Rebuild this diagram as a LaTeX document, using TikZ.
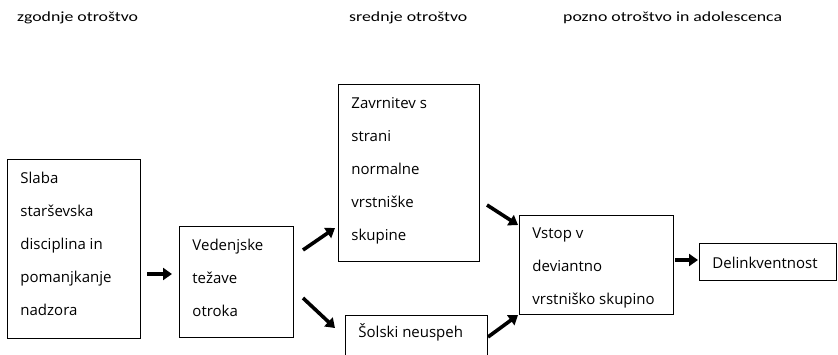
\documentclass[tikz,border=0pt]{standalone}
\usepackage{fontspec}
\usepackage{graphicx}
\setmainfont{Open Sans}
\newfontfamily\hdrfont{Carlito}
\usetikzlibrary{arrows.meta}
\newcommand{\hdrtext}[1]{\scalebox{1.27}[1]{\hdrfont\fontsize{14}{16}\selectfont #1}}
\newcommand{\boxtext}[4]{\parbox[t][#2][t]{#1}{\fontsize{15}{33}\selectfont\raggedright\leftskip=13pt\rule{0pt}{#3}#4}}
\tikzset{
  box/.style={draw, line width=0.9pt, inner sep=0pt, anchor=north west},
  hdr/.style={anchor=base west, inner sep=0pt},
  arr/.style={line width=3.6pt, -{Triangle[length=9pt,width=12pt]}}
}
\begin{document}
\begin{tikzpicture}[x=1pt,y=-1pt]
\useasboundingbox (0,0) rectangle (838,354);
\clip (0,0) rectangle (838,354);
\fill[white] (0,0) rectangle (838,354);
% headers
\node[hdr] (h1) at (17,21) {\hdrtext{zgodnje otroštvo}};
\node[hdr] (h2) at (349,21) {\hdrtext{srednje otroštvo}};
\node[hdr] (h3) at (563,21) {\hdrtext{pozno otroštvo in adolescenca}};
% boxes
\node[box] (b1) at (7,159) {\boxtext{133pt}{179pt}{24pt}{Slaba\\starševska\\disciplina in\\pomanjkanje\\nadzora}};
\node[box] (b2) at (179,226) {\boxtext{114pt}{111pt}{24pt}{Vedenjske\\težave\\otroka}};
\node[box] (b3) at (338,84) {\boxtext{141pt}{177pt}{24pt}{Zavrnitev s\\strani\\normalne\\vrstniške\\skupine}};
\node[box] (b4) at (345,315) {\boxtext{142pt}{48pt}{22pt}{Šolski neuspeh}};
\node[box] (b5) at (519,215) {\boxtext{154pt}{99pt}{23pt}{Vstop v\\deviantno\\vrstniško skupino}};
\node[box] (b6) at (699,243) {\boxtext{137pt}{37pt}{25pt}{Delinkventnost}};
% arrow end points
\coordinate (a1s) at (147,274); \coordinate (a1e) at (172,274);
\coordinate (a2s) at (303,250); \coordinate (a2e) at (335,228);
\coordinate (a3s) at (303,298); \coordinate (a3e) at (335,328);
\coordinate (a4s) at (487,205); \coordinate (a4e) at (518,225);
\coordinate (a5s) at (488,337); \coordinate (a5e) at (518,315);
\coordinate (a6s) at (675,260); \coordinate (a6e) at (698,260);
\draw[arr] (a1s) -- (a1e);
\draw[arr] (a2s) -- (a2e);
\draw[arr] (a3s) -- (a3e);
\draw[arr] (a4s) -- (a4e);
\draw[arr] (a5s) -- (a5e);
\draw[arr] (a6s) -- (a6e);
\end{tikzpicture}
\end{document}
